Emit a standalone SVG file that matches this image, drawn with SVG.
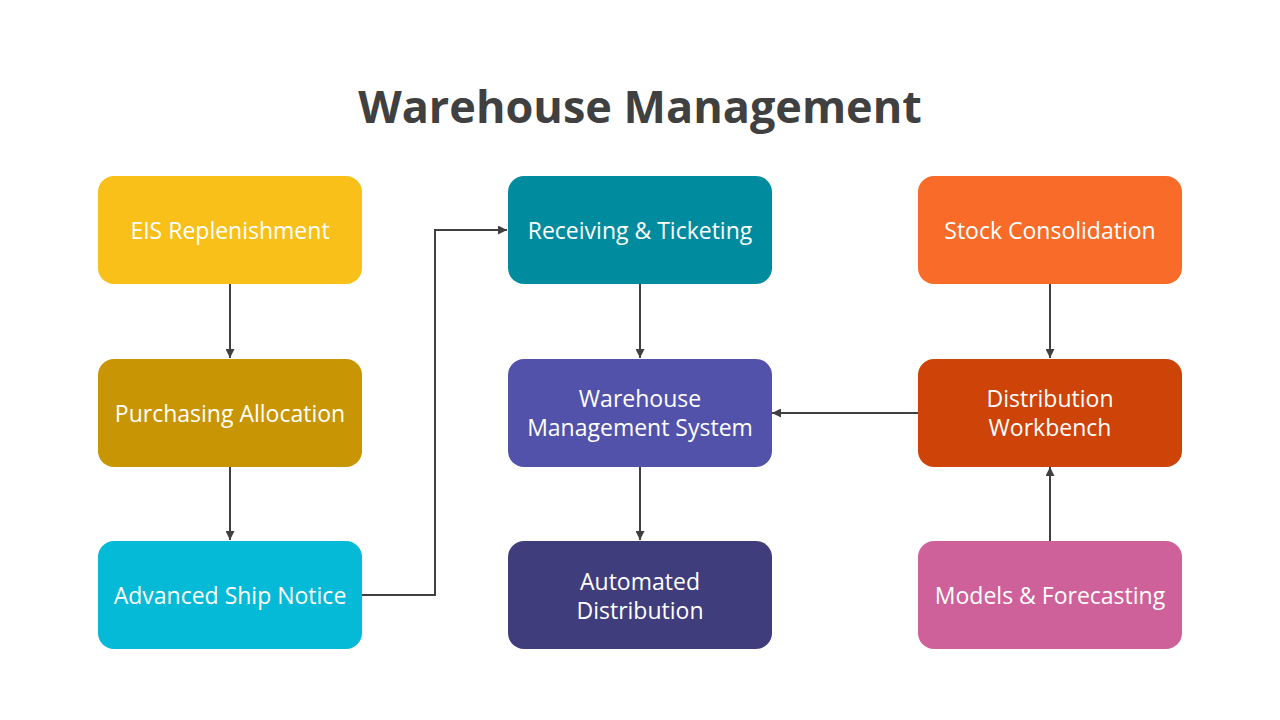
<svg xmlns="http://www.w3.org/2000/svg" width="1280" height="720" viewBox="0 0 1280 720">
<defs>
<style>
.box{stroke:none}
.t{font-family:"Open Sans","Noto Sans","Liberation Sans",sans-serif;font-size:23px;fill:#ffffff;text-anchor:middle}
.title{font-family:"Open Sans","Noto Sans","Liberation Sans",sans-serif;font-size:45px;font-weight:bold;fill:#404040;text-anchor:middle}
.c{fill:none;stroke:#404040;stroke-width:2}
</style>
<marker id="ah" viewBox="0 0 10 10" refX="10" refY="5" markerWidth="4.5" markerHeight="4.5" orient="auto" markerUnits="strokeWidth">
<path d="M0,0 L10,5 L0,10 z" fill="#404040"/>
</marker>
</defs>
<rect width="1280" height="720" fill="#ffffff"/>
<text class="title" x="640" y="123">Warehouse Management</text>
<g id="connectors">
<path class="c" d="M230,284 V358" marker-end="url(#ah)"/>
<path class="c" d="M230,467 V540" marker-end="url(#ah)"/>
<path class="c" d="M362,595 H435 V230 H507" marker-end="url(#ah)"/>
<path class="c" d="M640,284 V358" marker-end="url(#ah)"/>
<path class="c" d="M640,467 V540" marker-end="url(#ah)"/>
<path class="c" d="M1050,284 V358" marker-end="url(#ah)"/>
<path class="c" d="M918,413 H772" marker-end="url(#ah)"/>
<path class="c" d="M1050,541 V467" marker-end="url(#ah)"/>
</g>
<g id="eis"><rect class="box" x="98" y="176" width="264" height="108" rx="16" fill="#F9C019"/><text class="t" x="230" y="239">EIS Replenishment</text></g>
<g id="purchasing"><rect class="box" x="98" y="359" width="264" height="108" rx="16" fill="#C89504"/><text class="t" x="230" y="422">Purchasing Allocation</text></g>
<g id="asn"><rect class="box" x="98" y="541" width="264" height="108" rx="16" fill="#04BAD6"/><text class="t" x="230" y="604">Advanced Ship Notice</text></g>
<g id="receiving"><rect class="box" x="508" y="176" width="264" height="108" rx="16" fill="#008C9E"/><text class="t" x="640" y="239">Receiving &amp; Ticketing</text></g>
<g id="wms"><rect class="box" x="508" y="359" width="264" height="108" rx="16" fill="#5252AA"/><text class="t" x="640" y="407">Warehouse</text><text class="t" x="640" y="436">Management System</text></g>
<g id="automated"><rect class="box" x="508" y="541" width="264" height="108" rx="16" fill="#3F3D7C"/><text class="t" x="640" y="590">Automated</text><text class="t" x="640" y="619">Distribution</text></g>
<g id="stock"><rect class="box" x="918" y="176" width="264" height="108" rx="16" fill="#F86B28"/><text class="t" x="1050" y="239">Stock Consolidation</text></g>
<g id="distribution"><rect class="box" x="918" y="359" width="264" height="108" rx="16" fill="#CE4308"/><text class="t" x="1050" y="407">Distribution</text><text class="t" x="1050" y="436">Workbench</text></g>
<g id="models"><rect class="box" x="918" y="541" width="264" height="108" rx="16" fill="#CE619A"/><text class="t" x="1050" y="604">Models &amp; Forecasting</text></g>
</svg>
